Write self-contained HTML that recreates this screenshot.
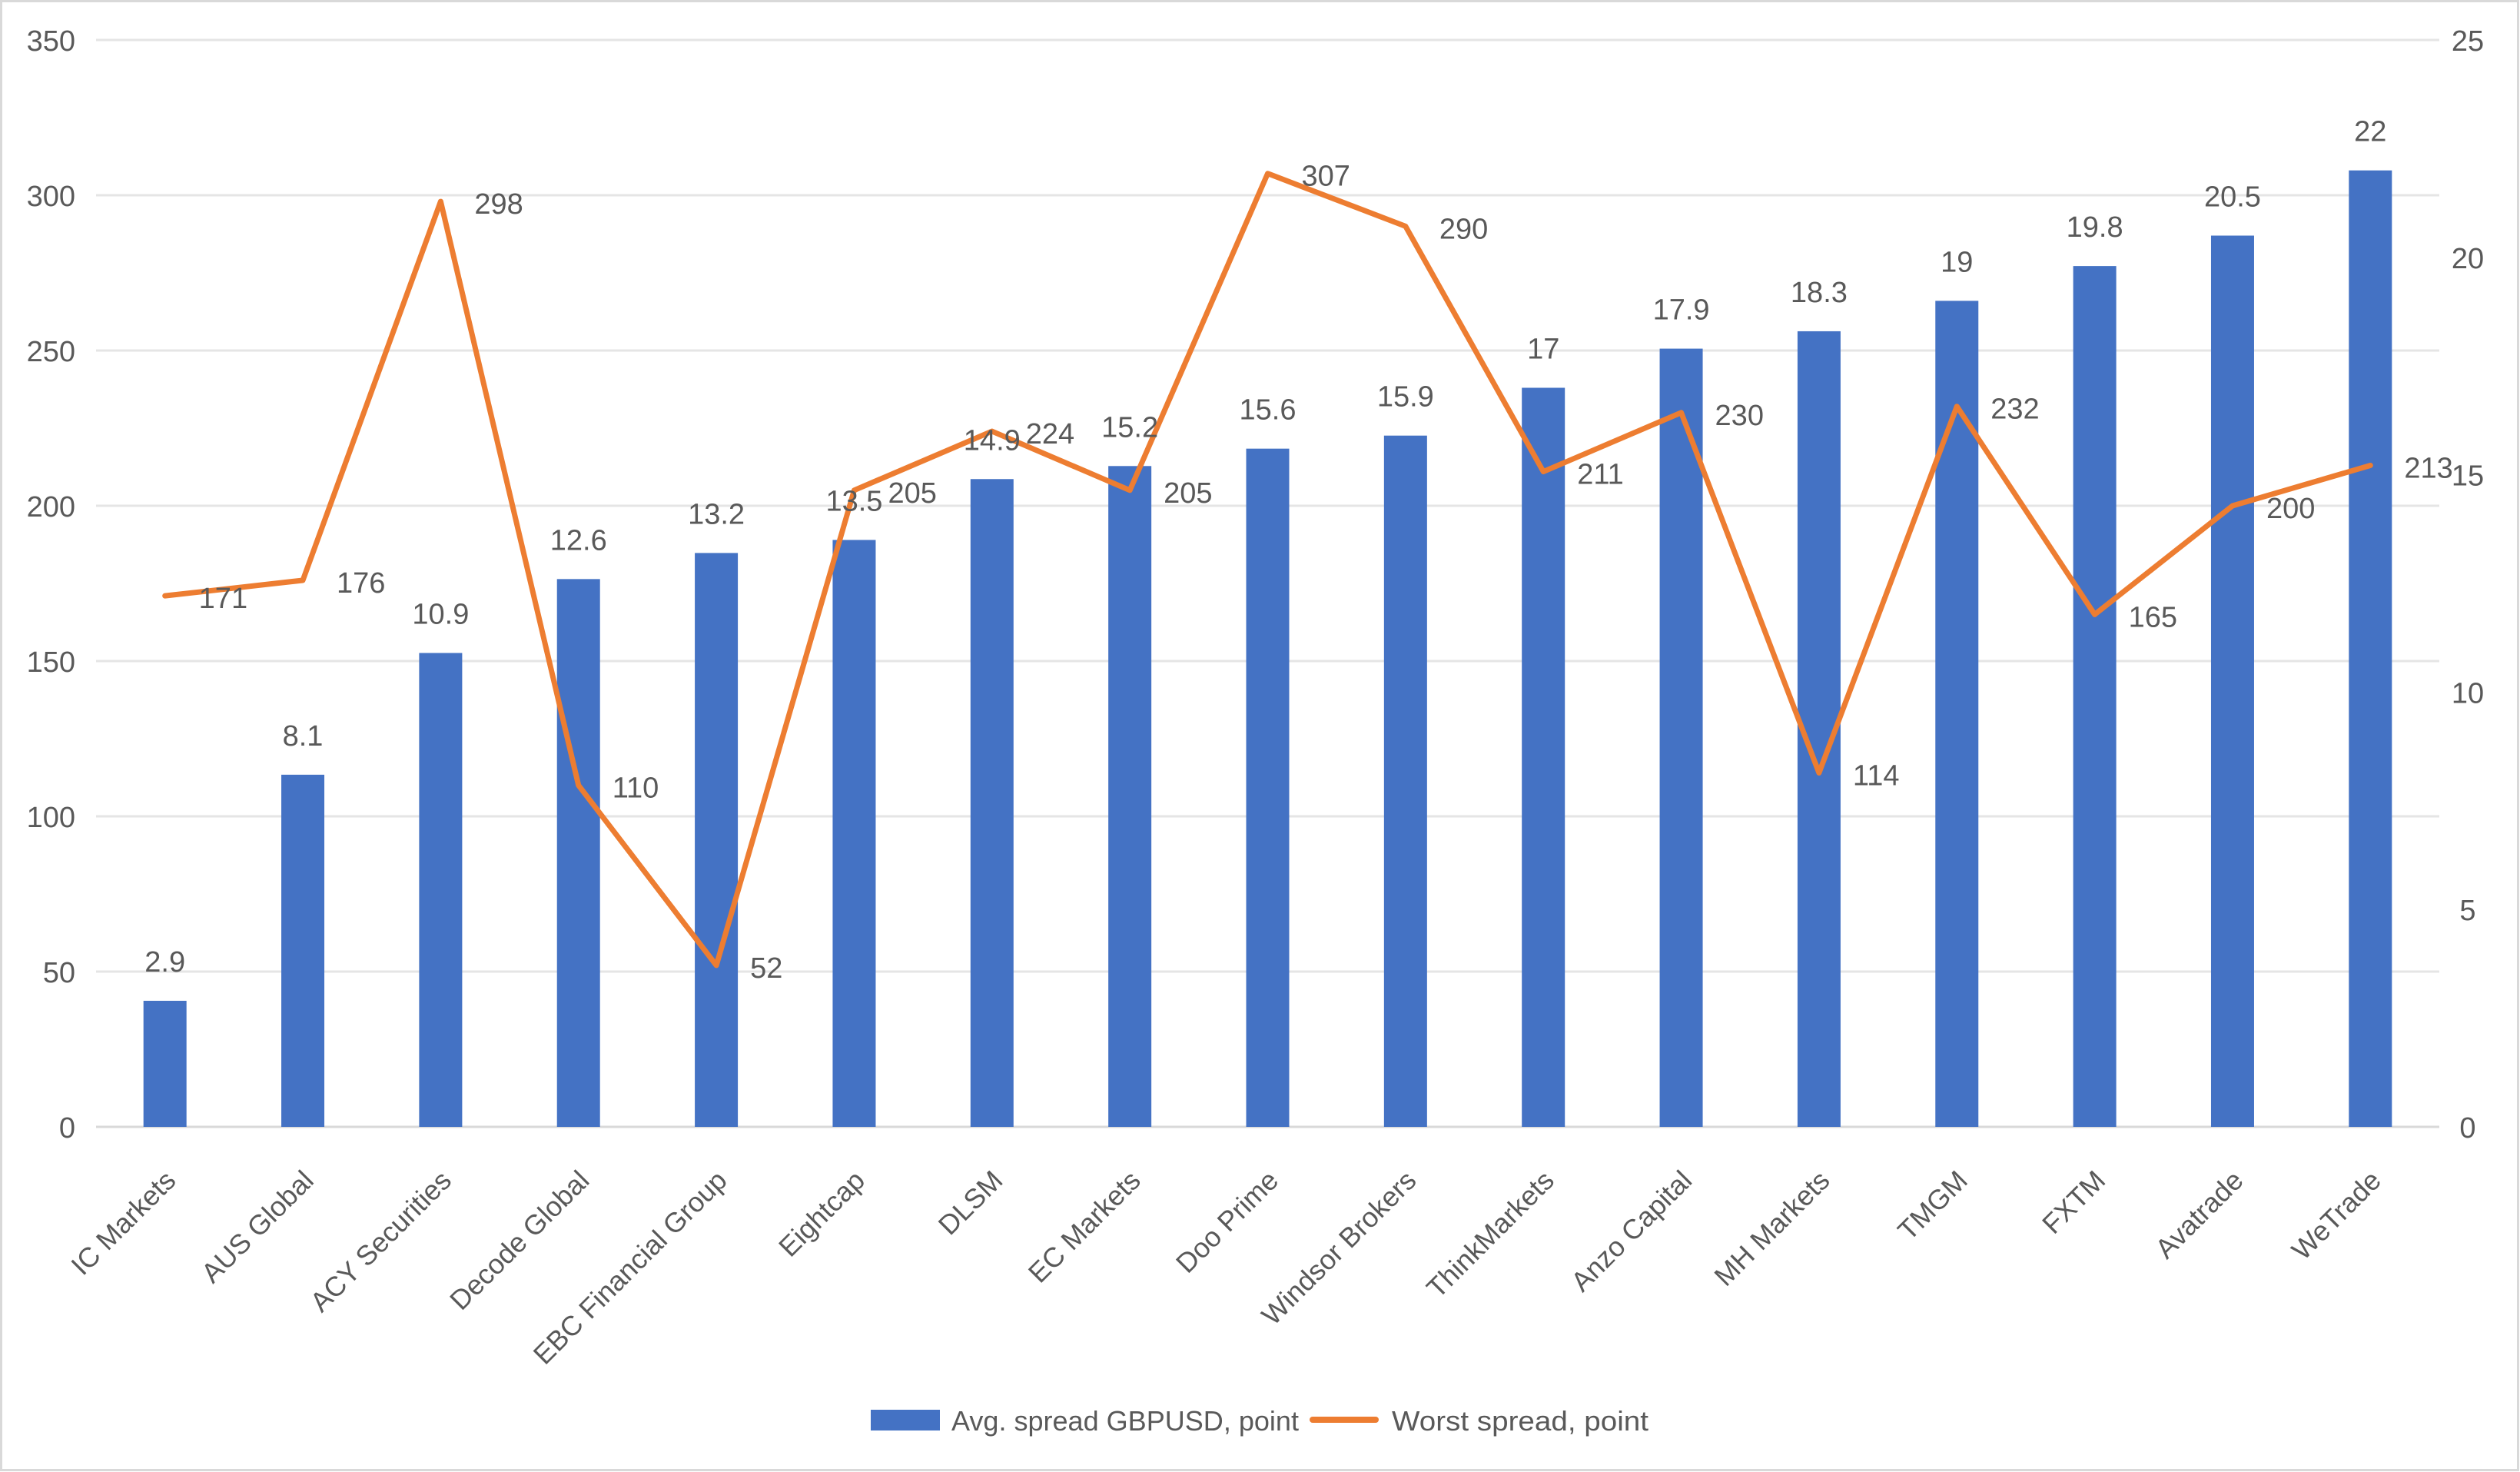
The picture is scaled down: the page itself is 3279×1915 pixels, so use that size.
<!DOCTYPE html>
<html><head><meta charset="utf-8"><style>
html,body{margin:0;padding:0;background:#fff}
svg{display:block}
text{font-family:"Liberation Sans",sans-serif;fill:#595959}
</style></head><body>
<svg id="chart" width="3279" height="1915" viewBox="0 0 3279 1915" xmlns="http://www.w3.org/2000/svg">
<rect x="1.5" y="1.5" width="3275" height="1911" fill="#fff" stroke="#d9d9d9" stroke-width="3"/>
<g id="grid"></g><g id="bars"></g><g id="line"></g><g id="labels"></g>
<g>
<rect x="1133" y="1834" width="90" height="27" fill="#4472C4"/>
<text x="1238" y="1861" font-size="36" textLength="452" lengthAdjust="spacingAndGlyphs">Avg. spread GBPUSD, point</text>
<line x1="1708" y1="1847" x2="1790" y2="1847" stroke="#ED7D31" stroke-width="8" stroke-linecap="round"/>
<text x="1811" y="1861" font-size="36" textLength="334" lengthAdjust="spacingAndGlyphs">Worst spread, point</text>
</g>
</svg>
<script>
const categories=["IC Markets","AUS Global","ACY Securities","Decode Global","EBC Financial Group","Eightcap","DLSM","EC Markets","Doo Prime","Windsor Brokers","ThinkMarkets","Anzo Capital","MH Markets","TMGM","FXTM","Avatrade","WeTrade"];
const avgSpread=[2.9,8.1,10.9,12.6,13.2,13.5,14.9,15.2,15.6,15.9,17,17.9,18.3,19,19.8,20.5,22];
const worstSpread=[171,176,298,110,52,205,224,205,307,290,211,230,114,232,165,200,213];
const leftTicks=[0,50,100,150,200,250,300,350];
const rightTicks=[0,5,10,15,20,25];
const NS="http://www.w3.org/2000/svg";
const X0=125,X1=3174,Y0=1466,Y1=52;
const band=(X1-X0)/categories.length;
const xc=i=>X0+band*(i+0.5);
const yL=v=>Y0-(v/350)*(Y0-Y1);
const yR=v=>Y0-(v/25)*(Y0-Y1);
function mk(tag,attrs,parent,txt){const e=document.createElementNS(NS,tag);for(const k in attrs)e.setAttribute(k,attrs[k]);if(txt!==undefined)e.textContent=txt;parent.appendChild(e);return e;}
const grid=document.getElementById('grid');
leftTicks.forEach(t=>{
 const l=mk('line',{x1:X0,x2:X1,y1:yL(t),y2:yL(t),stroke:t===0?'#d9d9d9':'#e5e5e5','stroke-width':3},grid);
 
 
 const tx=mk('text',{x:98,y:yL(t)+14,'font-size':38,'text-anchor':'end'},grid,String(t));
 
 
});
rightTicks.forEach(t=>{
 const tx=mk('text',{x:3211,y:yR(t)+14,'font-size':38,'text-anchor':'middle'},grid,String(t));
 
 
});
const bars=document.getElementById('bars'),labels=document.getElementById('labels');
avgSpread.forEach((v,i)=>{
 const r=mk('rect',{x:xc(i)-28,y:yR(v),width:56,height:Y0-yR(v),fill:'#4472C4'},bars);
 
 
 const t=mk('text',{x:xc(i),y:yR(v)-38,'font-size':38,'text-anchor':'middle','fill':'#404040'},labels,String(v));
 
 
 const c=mk('text',{'font-size':36,'text-anchor':'end',transform:`translate(${xc(i)+16},${Y0+72}) rotate(-45)`},labels,categories[i]);
 
 
});
const pts=worstSpread.map((v,i)=>xc(i)+','+yL(v)).join(' ');
const pl=mk('polyline',{points:pts,fill:'none',stroke:'#ED7D31','stroke-width':7,'stroke-linejoin':'round','stroke-linecap':'round'},document.getElementById('line'));


worstSpread.forEach((v,i)=>{
 const t=mk('text',{x:xc(i)+44,y:yL(v)+16,'font-size':38,'fill':'#404040'},labels,String(v));
 
 
});
</script>
</body></html>
